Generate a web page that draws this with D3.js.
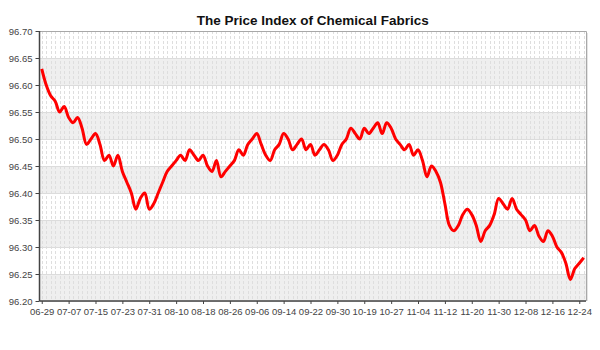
<!DOCTYPE html>
<html lang="en">
<head>
    <meta charset="UTF-8" />
    <title>The Price Index of Chemical Fabrics</title>
    <script src="https://d3js.org/d3.v7.min.js"></script>
    <style>
        body { margin: 0; background: #fff; }
        #chart { width: 600px; height: 350px; }
        text { font-family: "Liberation Sans", Arial, sans-serif; }
    </style>
</head>
<body>
    <div id="chart"></div>
    <script>
        // --- Data ---
        const tickLabels = ["06-29", "07-07", "07-15", "07-23", "07-31", "08-10", "08-18",
            "08-26", "09-06", "09-14", "09-22", "09-30", "10-19", "10-27", "11-04",
            "11-12", "11-20", "11-30", "12-08", "12-16", "12-24"];

        const priceIndex = [
            96.63, 96.60, 96.58, 96.57, 96.55, 96.56, 96.54, 96.53, 96.54, 96.52,
            96.49, 96.50, 96.51, 96.49, 96.46, 96.47, 96.45, 96.47, 96.44, 96.42,
            96.40, 96.37, 96.39, 96.40, 96.37, 96.38, 96.40, 96.42, 96.44, 96.45,
            96.46, 96.47, 96.46, 96.48, 96.47, 96.46, 96.47, 96.45, 96.44, 96.46,
            96.43, 96.44, 96.45, 96.46, 96.48, 96.47, 96.49, 96.50, 96.51, 96.49,
            96.47, 96.46, 96.48, 96.49, 96.51, 96.50, 96.48, 96.49, 96.50, 96.48,
            96.49, 96.47, 96.48, 96.49, 96.48, 96.46, 96.47, 96.49, 96.50, 96.52,
            96.51, 96.50, 96.52, 96.51, 96.52, 96.53, 96.51, 96.53, 96.52, 96.50,
            96.49, 96.48, 96.49, 96.47, 96.48, 96.46, 96.43, 96.45, 96.44, 96.42,
            96.38, 96.34, 96.33, 96.34, 96.36, 96.37, 96.36, 96.34, 96.31, 96.33,
            96.34, 96.36, 96.39, 96.38, 96.37, 96.39, 96.37, 96.36, 96.35, 96.33,
            96.34, 96.32, 96.31, 96.33, 96.32, 96.30, 96.29, 96.27, 96.24, 96.26,
            96.27, 96.28
        ];

        const yTicks = [96.20, 96.25, 96.30, 96.35, 96.40, 96.45, 96.50, 96.55, 96.60, 96.65, 96.70];
        const labelEvery = 6;

        // --- Layout ---
        const width = 600, height = 350;
        const plot = { left: 39.5, right: 586, top: 31, bottom: 301 };

        const svg = d3.select("#chart").append("svg")
            .attr("width", width)
            .attr("height", height);

        const x = d3.scalePoint()
            .domain(d3.range(priceIndex.length))
            .range([plot.left, plot.right])
            .padding(0.5);

        const y = d3.scaleLinear()
            .domain([yTicks[0], yTicks[yTicks.length - 1]])
            .range([plot.bottom, plot.top]);

        // alternating bands
        const bands = svg.append("g");
        yTicks.slice(0, -1).forEach((t, i) => {
            if (i % 2 === 0) {
                bands.append("rect")
                    .attr("x", plot.left)
                    .attr("y", y(yTicks[i + 1]))
                    .attr("width", plot.right - plot.left)
                    .attr("height", y(t) - y(yTicks[i + 1]))
                    .attr("fill", "#efefef");
            }
        });

        // vertical dashed grid, one per point
        svg.append("g").selectAll("line")
            .data(d3.range(priceIndex.length))
            .join("line")
            .attr("x1", d => Math.round(x(d)) + 0.5)
            .attr("x2", d => Math.round(x(d)) + 0.5)
            .attr("y1", plot.top)
            .attr("y2", plot.bottom)
            .attr("stroke", "#dedede")
            .attr("stroke-dasharray", "3,2");

        // horizontal grid
        svg.append("g").selectAll("line")
            .data(yTicks)
            .join("line")
            .attr("x1", plot.left)
            .attr("x2", plot.right)
            .attr("y1", d => Math.round(y(d)) + 0.5)
            .attr("y2", d => Math.round(y(d)) + 0.5)
            .attr("stroke", "#dcdcdc");

        // plot frame (top / right)
        svg.append("path")
            .attr("d", `M${plot.left},${plot.top + 0.5}H${plot.right + 0.5}V${plot.bottom}`)
            .attr("fill", "none")
            .attr("stroke", "#a8a8a8");
        svg.append("line")
            .attr("x1", plot.right + 1.5).attr("x2", plot.right + 1.5)
            .attr("y1", plot.top + 2).attr("y2", plot.bottom)
            .attr("stroke", "#e4e4e4");

        // axes
        const yAxis = svg.append("g")
            .attr("transform", `translate(${plot.left},0)`)
            .call(d3.axisLeft(y).tickValues(yTicks).tickSize(4).tickPadding(3).tickFormat(d3.format(".2f")));

        const xAxis = svg.append("g")
            .attr("transform", `translate(0,${plot.bottom})`)
            .call(d3.axisBottom(x)
                .tickValues(d3.range(0, priceIndex.length, labelEvery).slice(0, tickLabels.length))
                .tickSize(3)
                .tickPadding(4)
                .tickFormat((d, i) => tickLabels[i]));

        [yAxis, xAxis].forEach(g => {
            g.select(".domain").attr("stroke", "#444").attr("stroke-width", 1.5);
            g.selectAll(".tick line").attr("stroke", "#444");
            g.selectAll(".tick text")
                .attr("fill", "#444")
                .style("font-size", "9.5px")
                .style("font-family", "'Liberation Sans', Arial, sans-serif");
        });
        xAxis.select(".domain").attr("d", `M${plot.left},0H${plot.right}`);
        yAxis.select(".domain").attr("d", `M0,${plot.bottom}V${plot.top}`);

        // line
        const line = d3.line()
            .x((d, i) => x(i))
            .y(d => y(d))
            .curve(d3.curveCatmullRom.alpha(0.5));

        svg.append("path")
            .datum(priceIndex)
            .attr("fill", "none")
            .attr("stroke", "#ff0000")
            .attr("stroke-width", 3)
            .attr("stroke-linejoin", "round")
            .attr("d", line);

        // title
        svg.append("text")
            .attr("x", (plot.left + plot.right) / 2)
            .attr("y", 25)
            .attr("text-anchor", "middle")
            .attr("fill", "#111")
            .style("font-size", "13.5px")
            .style("font-weight", "bold")
            .text("The Price Index of Chemical Fabrics");
    </script>
</body>
</html>
